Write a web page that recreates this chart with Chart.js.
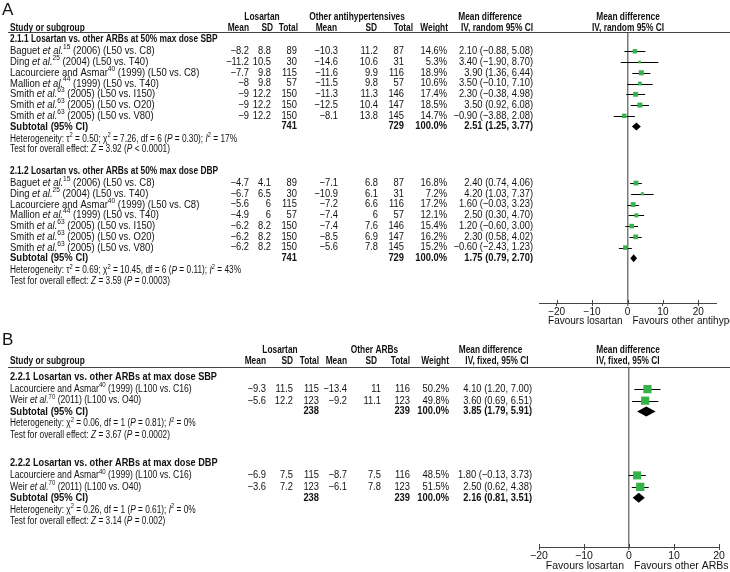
<!DOCTYPE html>
<html>
<head>
<meta charset="utf-8">
<script src="https://cdn.jsdelivr.net/npm/chart.js@4.4.0/dist/chart.umd.min.js"></script>
<style>
  html, body { margin: 0; padding: 0; background: #fff; }
  #wrap { position: relative; width: 730px; height: 572px; overflow: hidden; }
  canvas { position: absolute; left: 0; }
  #chartA { top: 0; }
  #chartB { top: 330px; }
</style>
</head>
<body>
<div id="wrap">
  <canvas id="chartA" width="730" height="330" style="width:730px;height:330px"></canvas>
  <canvas id="chartB" width="730" height="242" style="width:730px;height:242px"></canvas>
</div>
<script>
const FONT = '"Liberation Sans", Arial, Helvetica, sans-serif';

// ---- panel A: losartan vs other antihypertensives, 50% max dose ----
const studiesA = [
  "Baguet _et al._^15^ (2006) (L50 vs. C8)",
  "Ding _et al._^25^ (2004) (L50 vs. T40)",
  "Lacourciere and Asmar^40^ (1999) (L50 vs. C8)",
  "Mallion _et al._^44^ (1999) (L50 vs. T40)",
  "Smith _et al._^63^ (2005) (L50 vs. I150)",
  "Smith _et al._^63^ (2005) (L50 vs. O20)",
  "Smith _et al._^63^ (2005) (L50 vs. V80)",
];
// SBP
const losMeanA1 = [-8.2, -11.2, -7.7, -8, -9, -9, -9];
const losSdA1 = [8.8, 10.5, 9.8, 9.8, 12.2, 12.2, 12.2];
const losNA1 = [89, 30, 115, 57, 150, 150, 150];
const othMeanA1 = [-10.3, -14.6, -11.6, -11.5, -11.3, -12.5, -8.1];
const othSdA1 = [11.2, 10.6, 9.9, 9.8, 11.3, 10.4, 13.8];
const othNA1 = [87, 31, 116, 57, 146, 147, 145];
const weightA1 = [14.6, 5.3, 18.9, 10.6, 17.4, 18.5, 14.7];
const mdA1 = [2.10, 3.40, 3.90, 3.50, 2.30, 3.50, -0.90];
const loA1 = [-0.88, -1.90, 1.36, -0.10, -0.38, 0.92, -3.88];
const hiA1 = [5.08, 8.70, 6.44, 7.10, 4.98, 6.08, 2.08];
// DBP
const losMeanA2 = [-4.7, -6.7, -5.6, -4.9, -6.2, -6.2, -6.2];
const losSdA2 = [4.1, 6.5, 6, 6, 8.2, 8.2, 8.2];
const losNA2 = [89, 30, 115, 57, 150, 150, 150];
const othMeanA2 = [-7.1, -10.9, -7.2, -7.4, -7.4, -8.5, -5.6];
const othSdA2 = [6.8, 6.1, 6.6, 6, 7.6, 6.9, 7.8];
const othNA2 = [87, 31, 116, 57, 146, 147, 145];
const weightA2 = [16.8, 7.2, 17.2, 12.1, 15.4, 16.2, 15.2];
const mdA2 = [2.40, 4.20, 1.60, 2.50, 1.20, 2.30, -0.60];
const loA2 = [0.74, 1.03, -0.03, 0.30, -0.60, 0.58, -2.43];
const hiA2 = [4.06, 7.37, 3.23, 4.70, 3.00, 4.02, 1.23];
// subgroups
const subTitlesA = [
  "2.1.1 Losartan vs. other ARBs at 50% max dose SBP",
  "2.1.2 Losartan vs. other ARBs at 50% max dose DBP",
];
const subLosNA = [741, 741];
const subOthNA = [729, 729];
const subMdA = [2.51, 1.75];
const subLoA = [1.25, 0.79];
const subHiA = [3.77, 2.70];
const hetA = [
  "Heterogeneity: τ^2^ = 0.50; χ^2^ = 7.26, df = 6 (_P_ = 0.30); _I_^2^ = 17%",
  "Heterogeneity: τ^2^ = 0.69; χ^2^ = 10.45, df = 6 (_P_ = 0.11); _I_^2^ = 43%",
];
const testA = [
  "Test for overall effect: _Z_ = 3.92 (_P_ < 0.0001)",
  "Test for overall effect: _Z_ = 3.59 (_P_ = 0.0003)",
];
const xRangeA = [-25, 25];
const xTicksA = [-20, -10, 0, 10, 20];

// ---- panel B: losartan vs other ARBs, max dose ----
const studiesB = [
  "Lacourciere and Asmar^40^ (1999) (L100 vs. C16)",
  "Weir _et al._^70^ (2011) (L100 vs. O40)",
];
const losMeanB1 = [-9.3, -5.6];
const losSdB1 = [11.5, 12.2];
const losNB1 = [115, 123];
const othMeanB1 = [-13.4, -9.2];
const othSdB1 = [11, 11.1];
const othNB1 = [116, 123];
const weightB1 = [50.2, 49.8];
const mdB1 = [4.10, 3.60];
const loB1 = [1.20, 0.69];
const hiB1 = [7.00, 6.51];

const losMeanB2 = [-6.9, -3.6];
const losSdB2 = [7.5, 7.2];
const losNB2 = [115, 123];
const othMeanB2 = [-8.7, -6.1];
const othSdB2 = [7.5, 7.8];
const othNB2 = [116, 123];
const weightB2 = [48.5, 51.5];
const mdB2 = [1.80, 2.50];
const loB2 = [-0.13, 0.62];
const hiB2 = [3.73, 4.38];

const subTitlesB = [
  "2.2.1 Losartan vs. other ARBs at max dose SBP",
  "2.2.2 Losartan vs. other ARBs at max dose DBP",
];
const subLosNB = [238, 238];
const subOthNB = [239, 239];
const subMdB = [3.85, 2.16];
const subLoB = [1.79, 0.81];
const subHiB = [5.91, 3.51];
const hetB = [
  "Heterogeneity: χ^2^ = 0.06, df = 1 (_P_ = 0.81); _I_^2^ = 0%",
  "Heterogeneity: χ^2^ = 0.26, df = 1 (_P_ = 0.61); _I_^2^ = 0%",
];
const testB = [
  "Test for overall effect: _Z_ = 3.67 (_P_ = 0.0002)",
  "Test for overall effect: _Z_ = 3.14 (_P_ = 0.002)",
];
const xRangeB = [-20, 20];
const xTicksB = [-20, -10, 0, 10, 20];

const panelA = {
  letter: "A", groupNames: ["Losartan", "Other antihypertensives"], method: "IV, random 95% CI",
  favours: ["Favours losartan", "Favours other antihypertensives"],
  titles: subTitlesA, studies: [studiesA, studiesA],
  losMean: [losMeanA1, losMeanA2], losSd: [losSdA1, losSdA2], losN: [losNA1, losNA2],
  othMean: [othMeanA1, othMeanA2], othSd: [othSdA1, othSdA2], othN: [othNA1, othNA2],
  weight: [weightA1, weightA2], md: [mdA1, mdA2], lo: [loA1, loA2], hi: [hiA1, hiA2],
  subLosN: subLosNA, subOthN: subOthNA, subMd: subMdA, subLo: subLoA, subHi: subHiA,
  het: hetA, test: testA, xRange: xRangeA, xTicks: xTicksA,
};
const panelB = {
  letter: "B", groupNames: ["Losartan", "Other ARBs"], method: "IV, fixed, 95% CI",
  favours: ["Favours losartan", "Favours other ARBs"],
  titles: subTitlesB, studies: [studiesB, studiesB],
  losMean: [losMeanB1, losMeanB2], losSd: [losSdB1, losSdB2], losN: [losNB1, losNB2],
  othMean: [othMeanB1, othMeanB2], othSd: [othSdB1, othSdB2], othN: [othNB1, othNB2],
  weight: [weightB1, weightB2], md: [mdB1, mdB2], lo: [loB1, loB2], hi: [hiB1, hiB2],
  subLosN: subLosNB, subOthN: subOthNB, subMd: subMdB, subLo: subLoB, subHi: subHiB,
  het: hetB, test: testB, xRange: xRangeB, xTicks: xTicksB,
};

// layout of each panel (pixels are canvas coordinates)
const layoutA = {
  padding: { top: 33, left: 539, right: 14, bottom: 3 }, axisH: 24,
  yMin: -0.6, yMax: 24.5,
  titleGap: 1.1, subGap: 1.0, hetGap: 1.15, groupGap: 2.0,
  letterY: 10, head1Y: 17, head2Y: 28,
  groupX: [262, 357], mdHeadX: 490, ciHeadX: 497, plotHeadX: 628,
  head: [249, 273, 298, 337, 377, 413, 448],
  cols: [249, 271, 297, 338, 378, 404, 447], ciX: 533,
  st: {
    label: { size: 11, sx: 0.86 },
    num: { size: 10.4, sx: 0.9 },
    numBold: { size: 10.4, bold: true, sx: 0.9 },
    head: { size: 11, bold: true, sx: 0.76 },
    title: { size: 11, bold: true, sx: 0.76 },
    sub: { size: 10.8, bold: true, sx: 0.88 },
    note: { size: 10, sx: 0.83 },
    axis: { size: 10 },
  },
  diamondH: 4, favoursDy: 18,
};
const layoutB = {
  padding: { top: 38, left: 539, right: 11, bottom: 3 }, axisH: 22,
  yMin: -0.74, yMax: 14.83,
  titleGap: 1.1, subGap: 0.95, hetGap: 1.05, groupGap: 2.4,
  letterY: 10, head1Y: 20, head2Y: 31,
  groupX: [280, 374.5], mdHeadX: 490.5, ciHeadX: 497, plotHeadX: 628,
  head: [266, 293, 319, 347, 377, 410, 449],
  cols: [266, 293, 319, 347, 381, 410, 449], ciX: 532,
  st: {
    label: { size: 10, sx: 0.86 },
    num: { size: 10.4, sx: 0.9 },
    numBold: { size: 10.4, bold: true, sx: 0.9 },
    head: { size: 11, bold: true, sx: 0.76 },
    title: { size: 11.2, bold: true, sx: 0.82 },
    sub: { size: 10.8, bold: true, sx: 0.88 },
    note: { size: 10, sx: 0.83 },
    axis: { size: 10.5 },
  },
  diamondH: 5, favoursDy: 19,
};

function fmt(v) { return String(v).replace("-", "\u2212"); }
function fmtCI(m, lo, hi) {
  return `${fmt(m.toFixed(2))} (${fmt(lo.toFixed(2))}, ${fmt(hi.toFixed(2))})`;
}

// tiny markup: _italic_  ^superscript^
function parseRich(text) {
  const parts = [];
  let italic = false, sup = false, buf = "";
  for (const ch of text) {
    if (ch === "_" || ch === "^") {
      if (buf) parts.push({ t: buf, italic, sup });
      buf = "";
      if (ch === "_") italic = !italic; else sup = !sup;
    } else buf += ch;
  }
  if (buf) parts.push({ t: buf, italic, sup });
  return parts;
}

function drawRich(ctx, text, x, y, st, align = "left") {
  const size = st.size, sx = st.sx || 1;
  const parts = parseRich(text);
  const fontOf = (p) => `${p.italic ? "italic " : ""}${st.bold ? "bold " : ""}${p.sup ? size * 0.7 : size}px ${FONT}`;
  let w = 0;
  parts.forEach((p) => { ctx.font = fontOf(p); p.w = ctx.measureText(p.t).width * sx; w += p.w; });
  let cx = align === "right" ? x - w : align === "center" ? x - w / 2 : x;
  ctx.textAlign = "left";
  ctx.textBaseline = "middle";
  parts.forEach((p) => {
    ctx.font = fontOf(p);
    ctx.save();
    ctx.translate(cx, p.sup ? y - size * 0.38 : y);
    ctx.scale(sx, 1);
    ctx.fillText(p.t, 0, 0);
    ctx.restore();
    cx += p.w;
  });
}

function buildRows(p, L) {
  const rows = [];
  let y = 0;
  p.titles.forEach((t, g) => {
    if (g > 0) y += L.groupGap;
    rows.push({ kind: "title", g, y });
    y += L.titleGap;
    p.studies[g].forEach((_, i) => {
      if (i > 0) y += 1;
      rows.push({ kind: "study", g, i, y });
    });
    y += L.subGap; rows.push({ kind: "subtotal", g, y });
    y += L.hetGap; rows.push({ kind: "het", g, y });
    y += 1; rows.push({ kind: "test", g, y });
  });
  return rows;
}

function forestPlugin(p, L, rows) {
  const st = L.st;
  return {
    id: "forest" + p.letter,
    beforeDatasetsDraw(chart) {
      const { ctx, scales: { x, y } } = chart;
      ctx.save();
      ctx.strokeStyle = "#000";
      ctx.lineWidth = 1;
      rows.filter((r) => r.kind === "study").forEach((r) => {
        const py = Math.round(y.getPixelForValue(r.y)) + 0.5;
        ctx.beginPath();
        ctx.moveTo(x.getPixelForValue(p.lo[r.g][r.i]), py);
        ctx.lineTo(x.getPixelForValue(p.hi[r.g][r.i]), py);
        ctx.stroke();
      });
      ctx.restore();
    },
    afterDatasetsDraw(chart) {
      const { ctx, scales: { x, y } } = chart;
      ctx.save();
      ctx.fillStyle = "#000";
      rows.filter((r) => r.kind === "subtotal").forEach((r) => {
        const py = y.getPixelForValue(r.y);
        ctx.beginPath();
        ctx.moveTo(x.getPixelForValue(p.subLo[r.g]), py);
        ctx.lineTo(x.getPixelForValue(p.subMd[r.g]), py - L.diamondH);
        ctx.lineTo(x.getPixelForValue(p.subHi[r.g]), py);
        ctx.lineTo(x.getPixelForValue(p.subMd[r.g]), py + L.diamondH);
        ctx.closePath();
        ctx.fill();
      });
      ctx.restore();
    },
    afterDraw(chart) {
      const { ctx, chartArea, scales: { x, y } } = chart;
      ctx.save();
      ctx.fillStyle = "#111";
      // panel letter
      ctx.font = `17px ${FONT}`;
      ctx.textAlign = "left";
      ctx.textBaseline = "middle";
      ctx.fillText(p.letter, 2, L.letterY);
      // headers
      drawRich(ctx, p.groupNames[0], L.groupX[0], L.head1Y, st.head, "center");
      drawRich(ctx, p.groupNames[1], L.groupX[1], L.head1Y, st.head, "center");
      drawRich(ctx, "Mean difference", L.mdHeadX, L.head1Y, st.head, "center");
      drawRich(ctx, "Mean difference", L.plotHeadX, L.head1Y, st.head, "center");
      drawRich(ctx, "Study or subgroup", 10, L.head2Y, st.head);
      ["Mean", "SD", "Total", "Mean", "SD", "Total", "Weight"].forEach((h, k) => {
        drawRich(ctx, h, L.head[k], L.head2Y, st.head, "right");
      });
      drawRich(ctx, p.method, L.ciHeadX, L.head2Y, st.head, "center");
      drawRich(ctx, p.method, L.plotHeadX, L.head2Y, st.head, "center");
      // header rule
      ctx.strokeStyle = "#444";
      ctx.lineWidth = 1;
      const ly = Math.round(chartArea.top) - 0.5;
      ctx.beginPath();
      ctx.moveTo(8, ly);
      ctx.lineTo(730, ly);
      ctx.stroke();
      // rows
      rows.forEach((r) => {
        const py = y.getPixelForValue(r.y);
        const g = r.g;
        if (r.kind === "title") {
          drawRich(ctx, p.titles[g], 10, py, st.title);
        } else if (r.kind === "study") {
          const i = r.i;
          drawRich(ctx, p.studies[g][i], 10, py, st.label);
          const vals = [
            fmt(p.losMean[g][i]), fmt(p.losSd[g][i]), fmt(p.losN[g][i]),
            fmt(p.othMean[g][i]), fmt(p.othSd[g][i]), fmt(p.othN[g][i]),
            p.weight[g][i].toFixed(1) + "%",
          ];
          vals.forEach((v, k) => drawRich(ctx, v, L.cols[k], py, st.num, "right"));
          drawRich(ctx, fmtCI(p.md[g][i], p.lo[g][i], p.hi[g][i]), L.ciX, py, st.num, "right");
        } else if (r.kind === "subtotal") {
          drawRich(ctx, "Subtotal (95% CI)", 10, py, st.sub);
          drawRich(ctx, String(p.subLosN[g]), L.cols[2], py, st.numBold, "right");
          drawRich(ctx, String(p.subOthN[g]), L.cols[5], py, st.numBold, "right");
          drawRich(ctx, "100.0%", L.cols[6], py, st.numBold, "right");
          drawRich(ctx, fmtCI(p.subMd[g], p.subLo[g], p.subHi[g]), L.ciX, py, st.numBold, "right");
        } else if (r.kind === "het") {
          drawRich(ctx, p.het[g], 10, py, st.note);
        } else {
          drawRich(ctx, p.test[g], 10, py, st.note);
        }
      });
      // favours labels under the axis
      const x0 = x.getPixelForValue(0);
      const fy = chartArea.bottom + L.favoursDy;
      drawRich(ctx, p.favours[0], x0 - 5, fy, st.axis, "right");
      drawRich(ctx, p.favours[1], x0 + 5, fy, st.axis, "left");
      // small upward tick marks
      ctx.strokeStyle = "#444";
      p.xTicks.forEach((v) => {
        const tx = Math.round(x.getPixelForValue(v)) + 0.5;
        ctx.beginPath();
        ctx.moveTo(tx, chartArea.bottom);
        ctx.lineTo(tx, chartArea.bottom - 3);
        ctx.stroke();
      });
      ctx.restore();
    },
  };
}

function makeForest(canvasId, p, L) {
  const rows = buildRows(p, L);
  const points = rows
    .filter((r) => r.kind === "study")
    .map((r) => ({ x: p.md[r.g][r.i], y: r.y, w: p.weight[r.g][r.i] }));
  const ctx = document.getElementById(canvasId).getContext("2d");
  return new Chart(ctx, {
    type: "scatter",
    data: {
      datasets: [
        {
          data: points,
          pointStyle: "rect",
          pointRadius: (c) => Math.sqrt(c.raw.w) * 0.82,
          backgroundColor: "#35b24a",
          borderWidth: 0,
        },
      ],
    },
    options: {
      responsive: false,
      animation: false,
      layout: { padding: L.padding },
      plugins: { legend: { display: false }, tooltip: { enabled: false } },
      scales: {
        x: {
          type: "linear",
          min: p.xRange[0],
          max: p.xRange[1],
          afterBuildTicks: (s) => { s.ticks = p.xTicks.map((v) => ({ value: v })); },
          afterFit: (s) => { s.height = L.axisH; },
          ticks: {
            font: { family: FONT, size: L.st.axis.size },
            color: "#111",
            padding: 0,
            maxRotation: 0,
            callback: (v) => fmt(v),
          },
          grid: {
            drawOnChartArea: true,
            color: (c) => (c.tick && c.tick.value === 0 ? "#7a7a7a" : "rgba(0,0,0,0)"),
            lineWidth: (c) => (c.tick && c.tick.value === 0 ? 1.5 : 1),
            tickColor: "#444",
            tickWidth: 1,
            tickLength: 3,
          },
          border: { display: true, color: "#444", width: 1 },
        },
        y: {
          type: "linear",
          display: false,
          reverse: true,
          min: L.yMin,
          max: L.yMax,
        },
      },
    },
    plugins: [forestPlugin(p, L, rows)],
  });
}

makeForest("chartA", panelA, layoutA);
makeForest("chartB", panelB, layoutB);
</script>
</body>
</html>
